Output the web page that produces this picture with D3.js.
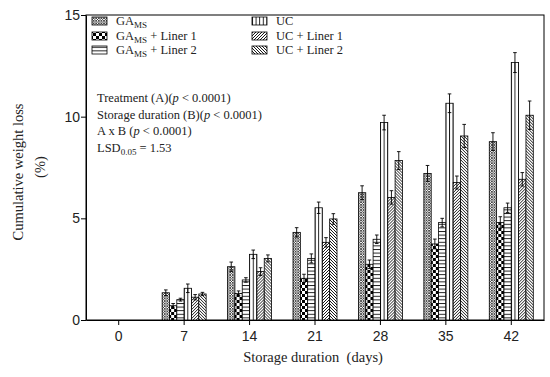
<!DOCTYPE html>
<html>
<head>
<meta charset="utf-8">
<script src="https://cdn.jsdelivr.net/npm/d3@7"></script>
<style>
  body { margin: 0; background: #fff; }
  svg { font-family: "Liberation Serif", "DejaVu Serif", serif; }
</style>
</head>
<body>
<div class="content"></div>
<script>
// data
var days = ["0", "7", "14", "21", "28", "35", "42"];
var seriesNames = ["GA_MS", "GA_MS + Liner 1", "GA_MS + Liner 2", "UC", "UC + Liner 1", "UC + Liner 2"];

var gaMs     = [0, 1.34, 2.62, 4.31, 6.26, 7.21, 8.77];
var gaMsL1   = [0, 0.70, 1.31, 2.05, 2.74, 3.74, 4.80];
var gaMsL2   = [0, 1.00, 1.97, 3.03, 3.97, 4.79, 5.52];
var uc       = [0, 1.56, 3.23, 5.52, 9.71, 10.66, 12.66];
var ucL1     = [0, 1.12, 2.38, 3.82, 6.03, 6.76, 6.92];
var ucL2     = [0, 1.28, 3.03, 4.97, 7.84, 9.05, 10.07];

var gaMsErr  = [0, 0.14, 0.23, 0.23, 0.34, 0.39, 0.44];
var gaMsL1Err= [0, 0.11, 0.12, 0.20, 0.21, 0.24, 0.28];
var gaMsL2Err= [0, 0.07, 0.11, 0.22, 0.21, 0.21, 0.23];
var ucErr    = [0, 0.21, 0.21, 0.28, 0.36, 0.46, 0.49];
var ucL1Err  = [0, 0.13, 0.19, 0.23, 0.33, 0.32, 0.33];
var ucL2Err  = [0, 0.08, 0.17, 0.26, 0.44, 0.57, 0.70];

var yTicks = [0, 5, 10, 15];
var statLines = [
  ["Treatment (A)(", "p", " < 0.0001)"],
  ["Storage duration (B)(", "p", " < 0.0001)"],
  ["A x B (", "p", " < 0.0001)"]
];

var values = [gaMs, gaMsL1, gaMsL2, uc, ucL1, ucL2];
var errors = [gaMsErr, gaMsL1Err, gaMsL2Err, ucErr, ucL1Err, ucL2Err];

// set the dimensions and margins of the graph
var W = 550, H = 377;
var margin = {top: 15, right: 6, bottom: 57, left: 86},
    width = W - margin.left - margin.right,
    height = H - margin.top - margin.bottom;

var root = d3.select(".content")
    .append("svg")
    .attr("width", W)
    .attr("height", H);

// hatch patterns
var defs = root.append("defs");
function pat(id, w, h) {
  return defs.append("pattern").attr("id", id)
    .attr("patternUnits", "userSpaceOnUse")
    .attr("width", w).attr("height", h);
}
var p0 = pat("p0", 2.6, 2.6);
p0.append("rect").attr("width", 2.6).attr("height", 2.6).attr("fill", "#fff");
p0.append("path").attr("d", "M0,0L2.6,2.6M2.6,0L0,2.6").attr("stroke", "#333").attr("stroke-width", 0.8);

var p1 = pat("p1", 6, 6);
p1.append("rect").attr("width", 6).attr("height", 6).attr("fill", "#fff");
p1.append("rect").attr("width", 3).attr("height", 3).attr("fill", "#000");
p1.append("rect").attr("x", 3).attr("y", 3).attr("width", 3).attr("height", 3).attr("fill", "#000");

var p2 = pat("p2", 4, 3.6);
p2.append("rect").attr("width", 4).attr("height", 3.6).attr("fill", "#fff");
p2.append("line").attr("x1", 0).attr("x2", 4).attr("y1", 0.5).attr("y2", 0.5).attr("stroke", "#000").attr("stroke-width", 0.9);

var p3 = pat("p3", 3.6, 4);
p3.append("rect").attr("width", 3.6).attr("height", 4).attr("fill", "#fff");
p3.append("line").attr("y1", 0).attr("y2", 4).attr("x1", 0.5).attr("x2", 0.5).attr("stroke", "#000").attr("stroke-width", 0.9);

var p4 = pat("p4", 3, 3);
p4.append("rect").attr("width", 3).attr("height", 3).attr("fill", "#fff");
p4.append("path").attr("d", "M-0.75,0.75L0.75,-0.75M0,3L3,0M2.25,3.75L3.75,2.25").attr("stroke", "#000").attr("stroke-width", 0.9);

var p5 = pat("p5", 3, 3);
p5.append("rect").attr("width", 3).attr("height", 3).attr("fill", "#fff");
p5.append("path").attr("d", "M-0.75,2.25L0.75,3.75M0,0L3,3M2.25,-0.75L3.75,0.75").attr("stroke", "#000").attr("stroke-width", 0.9);

var fills = ["url(#p0)", "url(#p1)", "url(#p2)", "url(#p3)", "url(#p4)", "url(#p5)"];

var svg = root.append("g")
    .attr("transform", "translate(" + margin.left + "," + margin.top + ")");

// scales
var x = d3.scaleBand().domain(days).range([0, width]).padding(0);
var xs = d3.scaleBand().domain(d3.range(6)).range([0, 44]).padding(0);
var y = d3.scaleLinear().domain([0, 15]).range([height, 0]);

// frame
svg.append("rect")
    .attr("width", width).attr("height", height)
    .attr("fill", "none").attr("stroke", "#000").attr("stroke-width", 1);

// bars
var groups = svg.selectAll(".grp")
    .data(days)
    .enter().append("g")
    .attr("transform", function(d) { return "translate(" + (x(d) + x.bandwidth() / 2 - 22) + ",0)"; });

groups.each(function(d, di) {
  var g = d3.select(this);
  for (var s = 0; s < 6; ++s) {
    var v = values[s][di], e = errors[s][di];
    if (v <= 0) continue;
    g.append("rect")
      .attr("x", xs(s))
      .attr("y", y(v))
      .attr("width", xs.bandwidth())
      .attr("height", y(0) - y(v))
      .attr("fill", fills[s])
      .attr("stroke", "#000")
      .attr("stroke-width", 0.8);
    var cx = xs(s) + xs.bandwidth() / 2;
    g.append("path")
      .attr("d", "M" + cx + "," + y(v - e) + "V" + y(v + e) +
                 "M" + (cx - 1.8) + "," + y(v + e) + "H" + (cx + 1.8) +
                 "M" + (cx - 1.8) + "," + y(v - e) + "H" + (cx + 1.8))
      .attr("stroke", "#000").attr("stroke-width", 0.9).attr("fill", "none");
  }
});

// axes
svg.append("g")
    .attr("transform", "translate(0," + height + ")")
    .call(d3.axisBottom(x).tickSize(5).tickSizeOuter(0))
    .call(function(g) {
      g.select(".domain").attr("stroke", "#000");
      g.selectAll("text").attr("font-size", 14).attr("font-family", "inherit").attr("dy", "0.95em").attr("fill", "#222");
    });

svg.append("g")
    .call(d3.axisLeft(y).tickValues(yTicks).tickSize(5).tickSizeOuter(0))
    .call(function(g) {
      g.select(".domain").attr("stroke", "#000");
      g.selectAll("text").attr("font-size", 14).attr("font-family", "inherit").attr("fill", "#222").attr("x", -6);
    });

// axis titles
root.append("text")
    .attr("x", margin.left + width / 2 - 2).attr("y", 362)
    .attr("text-anchor", "middle").attr("font-size", 14.5).attr("fill", "#222")
    .attr("xml:space", "preserve")
    .text("Storage duration  (days)");

root.append("text")
    .attr("transform", "translate(23,172) rotate(-90)")
    .attr("text-anchor", "middle").attr("font-size", 14.5).attr("fill", "#222")
    .text("Cumulative weight loss");
root.append("text")
    .attr("transform", "translate(45,167) rotate(-90)")
    .attr("text-anchor", "middle").attr("font-size", 14.5).attr("fill", "#222")
    .text("(%)");

// legend
var legPos = [[92, 21], [92, 36], [92, 50], [252, 21], [252, 36], [252, 50]];
seriesNames.forEach(function(name, i) {
  var lx = legPos[i][0], ly = legPos[i][1];
  root.append("rect")
    .attr("x", lx).attr("y", ly - 4).attr("width", 15).attr("height", 8)
    .attr("fill", fills[i]).attr("stroke", "#000").attr("stroke-width", 0.8);
  var t = root.append("text")
    .attr("x", lx + 24).attr("y", ly + 4)
    .attr("font-size", 12.5).attr("fill", "#222");
  if (name.indexOf("GA_MS") === 0) {
    t.append("tspan").text("GA");
    t.append("tspan").attr("font-size", 9).attr("dy", 3).text("MS");
    t.append("tspan").attr("dy", -3).text(name.slice(5));
  } else {
    t.text(name);
  }
});

// statistics text
statLines.forEach(function(parts, i) {
  var t = root.append("text")
    .attr("x", 97).attr("y", 102 + i * 16.5)
    .attr("font-size", 12.5).attr("fill", "#222");
  t.append("tspan").text(parts[0]);
  t.append("tspan").attr("font-style", "italic").text(parts[1]);
  t.append("tspan").text(parts[2]);
});
var lsd = root.append("text")
    .attr("x", 97).attr("y", 102 + 3 * 16.5)
    .attr("font-size", 12.5).attr("fill", "#222");
lsd.append("tspan").text("LSD");
lsd.append("tspan").attr("font-size", 9).attr("dy", 3).text("0.05");
lsd.append("tspan").attr("dy", -3).text(" = 1.53");
</script>
</body>
</html>
